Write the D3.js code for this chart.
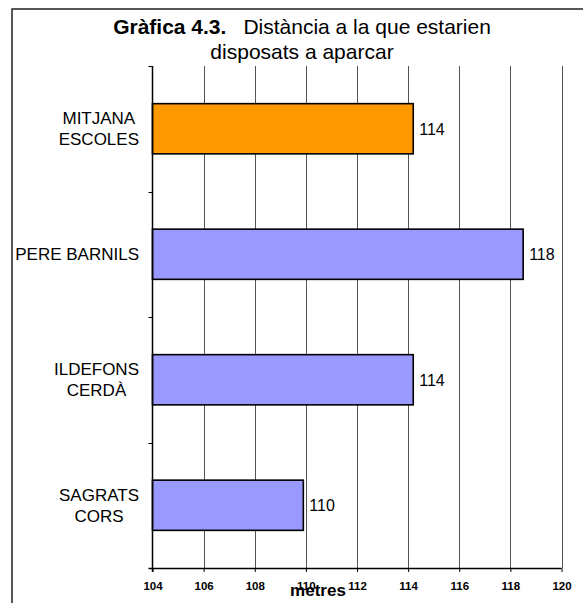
<!DOCTYPE html>
<title>Gràfica 4.3</title>
<body>
<script src="https://d3js.org/d3.v7.min.js"></script>
<style>
  html, body { margin: 0; background: #fff; overflow: hidden; }
  text { font-family: "Liberation Sans", Arial, sans-serif; fill: #000; }
</style>
<script>
  // data
  var categories = ["MITJANA\nESCOLES", "PERE BARNILS", "ILDEFONS\nCERDÀ", "SAGRATS\nCORS"];
  var values = [114.2, 118.5, 114.2, 109.9];
  var labels = ["114", "118", "114", "110"];
  var colors = ["#FF9900", "#9999FF", "#9999FF", "#9999FF"];
  var xTicks = [104, 106, 108, 110, 112, 114, 116, 118, 120];

  // plot box (note: "top" is taken by window.top, so use other names)
  var width = 583, height = 603,
    pl = 152.5, pr = 561.5, pt = 66, pb = 568;

  var svg = d3.select("body").append("svg")
    .attr("width", width)
    .attr("height", height);

  // outer frame (runs off the right and bottom edges)
  svg.append("rect")
    .attr("x", 12).attr("y", 9)
    .attr("width", 700).attr("height", 700)
    .attr("fill", "none")
    .attr("stroke", "#222")
    .attr("stroke-width", 1.5);

  var x = d3.scaleLinear().domain([104, 120]).range([pl, pr]);
  var y = d3.scaleBand().domain(d3.range(categories.length)).range([pt, pb]).paddingInner(0.6).paddingOuter(0.3);
  var yb = d3.scaleBand().domain(d3.range(categories.length)).range([pt, pb]);

  // vertical gridlines
  svg.append("g").selectAll("line")
    .data(xTicks.slice(1))
    .enter().append("line")
    .attr("x1", function(d) { return Math.round(x(d)) + 0.5; })
    .attr("x2", function(d) { return Math.round(x(d)) + 0.5; })
    .attr("y1", pt).attr("y2", pb)
    .attr("stroke", "#555");

  // bars
  svg.append("g").selectAll("rect")
    .data(values)
    .enter().append("rect")
    .attr("x", x(104))
    .attr("y", function(d, i) { return y(i); })
    .attr("width", function(d) { return x(d) - x(104); })
    .attr("height", y.bandwidth())
    .attr("fill", function(d, i) { return colors[i]; })
    .attr("stroke", "#000")
    .attr("stroke-width", 1.6);

  // value labels
  svg.append("g").selectAll("text")
    .data(values)
    .enter().append("text")
    .attr("x", function(d) { return x(d) + 6; })
    .attr("y", function(d, i) { return y(i) + y.bandwidth() / 2; })
    .attr("dy", "0.36em")
    .style("font-size", "16px")
    .text(function(d, i) { return labels[i]; });

  // x axis
  var xAxis = svg.append("g")
    .attr("transform", "translate(0," + pb + ")")
    .call(d3.axisBottom(x).tickValues(xTicks).tickSize(4).tickPadding(10).tickFormat(d3.format("d")));
  xAxis.select(".domain").attr("d", "M" + (pl - 4) + ",0.5H" + pr).attr("stroke", "#000").attr("stroke-width", 1.5);
  xAxis.selectAll(".tick line").attr("stroke", "#000");
  xAxis.selectAll("text")
    .style("font-size", "11.5px")
    .style("font-weight", "bold")
    .attr("font-family", null);

  // y axis with ticks on the band edges
  var yAxis = svg.append("g").attr("transform", "translate(" + pl + ",0)");
  yAxis.append("line")
    .attr("y1", pt).attr("y2", pb + 4)
    .attr("stroke", "#000").attr("stroke-width", 1.5);
  yAxis.selectAll(".yt")
    .data(d3.range(categories.length))
    .enter().append("line")
    .attr("x1", -4).attr("x2", 0)
    .attr("y1", function(d) { return Math.round(yb(d)) + 0.5; })
    .attr("y2", function(d) { return Math.round(yb(d)) + 0.5; })
    .attr("stroke", "#000");

  // category labels: block right aligned, lines centred inside it
  categories.forEach(function(c, i) {
    var lines = c.split("\n");
    var cy = yb(i) + yb.bandwidth() / 2;
    var t = svg.append("text").style("font-size", "17px").attr("text-anchor", "middle");
    var spans = lines.map(function(l, k) {
      return t.append("tspan")
        .attr("y", cy + 6 + (k - (lines.length - 1) / 2) * 21)
        .text(l);
    });
    var w = d3.max(spans, function(s) { return s.node().getComputedTextLength(); });
    spans.forEach(function(s) { s.attr("x", 139 - w / 2); });
  });

  // axis title
  svg.append("text")
    .attr("x", 318).attr("y", 596)
    .attr("text-anchor", "middle")
    .style("font-size", "17px")
    .style("font-weight", "bold")
    .text("metres");

  // chart title
  var title = svg.append("text")
    .attr("x", 302).attr("y", 34)
    .attr("text-anchor", "middle")
    .style("font-size", "21px");
  title.append("tspan").style("font-weight", "bold").text("Gràfica 4.3.");
  title.append("tspan").attr("dx", 17).text("Distància a la que estarien");
  svg.append("text")
    .attr("x", 302).attr("y", 59)
    .attr("text-anchor", "middle")
    .style("font-size", "21px")
    .text("disposats a aparcar");
</script>
